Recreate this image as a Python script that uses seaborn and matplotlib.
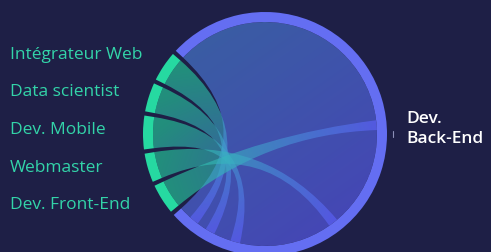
import numpy as np
import seaborn as sns
import matplotlib.pyplot as plt
from matplotlib.path import Path
from matplotlib.patches import PathPatch, Wedge

# DATA
sources = ["Intégrateur Web", "Data scientist", "Dev. Mobile", "Webmaster", "Dev. Front-End"]
target = "Dev. Back-End"
to_backend = [14.5, 13.8, 16.0, 13.8, 14.5]   # flow from each source
# Back-End arc, clockwise from its top end: partner of each flow and its value
be_partners = ["Dev. Back-End", "Dev. Front-End", "Dev. Back-End", "Webmaster",
               "Dev. Back-End", "Dev. Mobile", "Dev. Back-End", "Data scientist",
               "Dev. Back-End", "Intégrateur Web", "Dev. Back-End"]
be_values = [130, 5, 52, 5, 48, 5, 9, 5, 5, 5, 6.5]

# STYLE
BG = '#1e1f46'
GREEN = '#26d9a1'
BLUE = '#646ef2'
FLOW_BLUE = '#5f63ff'
LABEL = '#33d4a9'
CX, CY = 265, 118   # centre of the circle (pixels, y up)
R_OUT, RING = 122, 10
R_IN = R_OUT - RING
PAD = 2.0
START = 137.0
ALPHA = 0.6

sns.set_theme(style="dark", rc={"axes.facecolor": BG, "figure.facecolor": BG})
plt.rcParams['font.family'] = ['Open Sans', 'DejaVu Sans']

fig = plt.figure(figsize=(4.91, 2.53), dpi=100)
ax = fig.add_axes([0, 0, 1, 1])
ax.set_xlim(0, 491)
ax.set_ylim(0, 253)
ax.set_aspect('equal')
ax.axis('off')

# layout, clockwise from START
scale = (360 - PAD * (len(sources) + 1)) / (sum(to_backend) + sum(be_values))
cur = START
land = {}
for name, v in zip(be_partners, be_values):
  if name != target:
    land[name] = (cur, cur - v * scale)
  cur -= v * scale
be_arc = (cur, START)
cur -= PAD
src_segs = [None] * len(sources)
for i in reversed(range(len(sources))):
  src_segs[i] = (cur, cur - to_backend[i] * scale)
  cur -= to_backend[i] * scale + PAD


def pt(a, r=R_IN):
  t = np.radians(a)
  return (CX + r * np.cos(t), CY + r * np.sin(t))


def arc_pts(a0, a1, n=60):
  return [pt(a) for a in np.linspace(a0, a1, n)]


def ribbon(a0, a1, b0, b1):
  verts = arc_pts(a0, a1)
  codes = [Path.MOVETO] + [Path.LINETO] * (len(verts) - 1)
  verts += [(CX, CY), pt(b0)]
  codes += [Path.CURVE3, Path.CURVE3]
  more = arc_pts(b0, b1)[1:]
  verts += more
  codes += [Path.LINETO] * len(more)
  verts += [(CX, CY), pt(a0), pt(a0)]
  codes += [Path.CURVE3, Path.CURVE3, Path.CLOSEPOLY]
  return Path(verts, codes)


def lens(b0, b1):
  verts = arc_pts(b0, b1)
  codes = [Path.MOVETO] + [Path.LINETO] * (len(verts) - 1)
  verts += [(CX, CY), pt(b0), pt(b0)]
  codes += [Path.CURVE3, Path.CURVE3, Path.CLOSEPOLY]
  return Path(verts, codes)


cmap = sns.blend_palette([GREEN, FLOW_BLUE], as_cmap=True)
gx, gy = np.meshgrid(np.linspace(0, 491, 982), np.linspace(0, 253, 506))


def fill_gradient(path, p0, p1, t0=0.0, t1=1.0, z=1):
  patch = PathPatch(path, fc='none', ec='none')
  ax.add_patch(patch)
  p0, p1 = np.array(p0), np.array(p1)
  d = p1 - p0
  t = ((gx - p0[0]) * d[0] + (gy - p0[1]) * d[1]) / (d @ d)
  rgba = cmap(t0 + (t1 - t0) * np.clip(t, 0, 1))
  rgba[..., 3] = ALPHA
  im = ax.imshow(rgba, extent=(0, 491, 0, 253), origin='lower',
                 interpolation='bilinear', zorder=z)
  im.set_clip_path(patch)


# Back-End flows to itself
fill_gradient(lens(be_arc[1], be_arc[0]), pt(125), pt(-55), 0.7, 1.0, z=1)

# flows from each source into Back-End
for name, (a0, a1) in zip(sources, src_segs):
  b0, b1 = land[name]
  fill_gradient(ribbon(a0, a1, b0, b1), pt((a0 + a1) / 2), pt((b0 + b1) / 2), z=2)

# node arcs
ax.add_patch(Wedge((CX, CY), R_OUT, be_arc[0], be_arc[1], width=RING,
                   fc=BLUE, ec='none', zorder=3))
for a0, a1 in src_segs:
  ax.add_patch(Wedge((CX, CY), R_OUT, a1, a0, width=RING,
                     fc=GREEN, ec='none', zorder=3))

# labels
for name, y in zip(sources, np.linspace(198, 48, len(sources))):
  ax.text(10, y, name, color=LABEL, fontsize=12.5, va='center', ha='left')
ax.plot([CX + R_OUT + 6] * 2, [115, 121], color='#8c8fb8', lw=0.8)
ax.text(406, 124, "Dev.\nBack-End", color='white', fontsize=12.5,
        fontweight='semibold', va='center', ha='left', linespacing=1.4)

fig.savefig('out.png', dpi=100, facecolor=BG)
